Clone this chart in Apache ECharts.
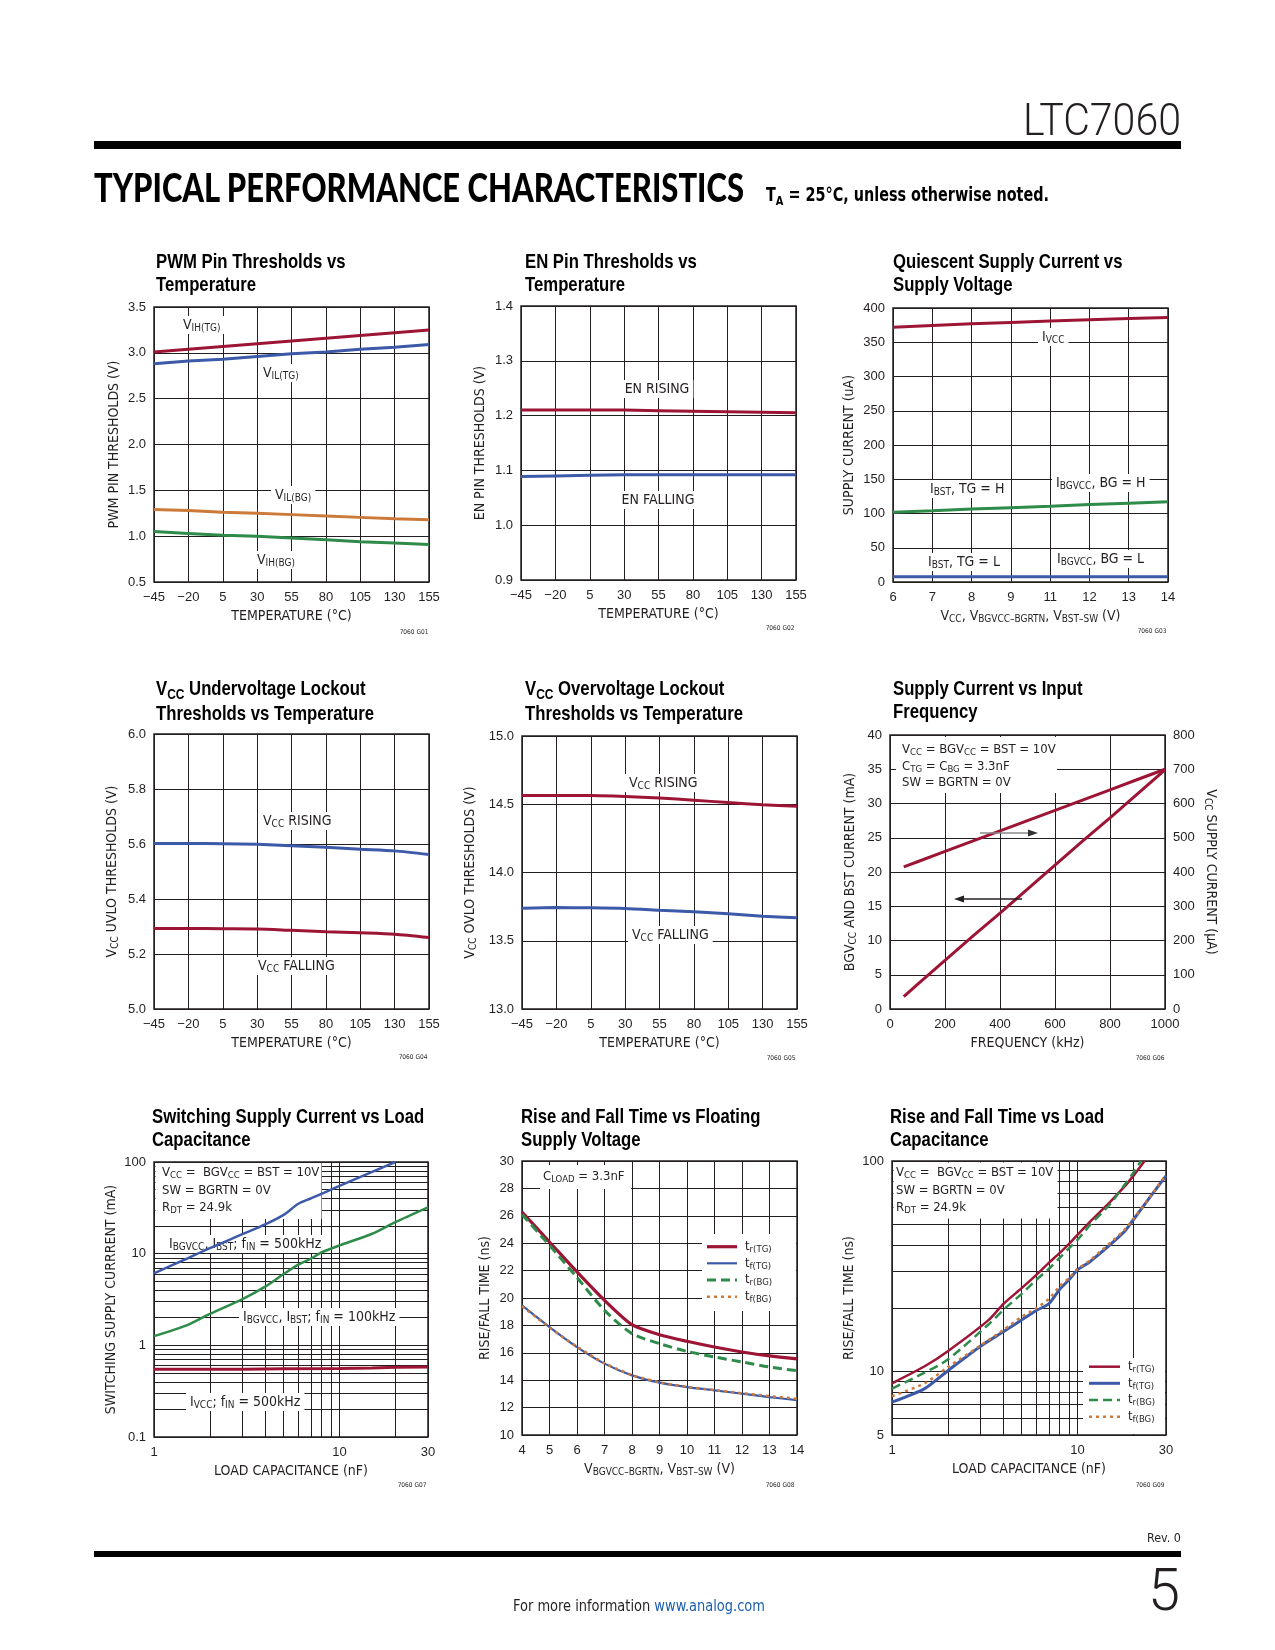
<!DOCTYPE html>
<html><head><meta charset="utf-8">
<script src="https://cdn.jsdelivr.net/npm/echarts@6/dist/echarts.min.js"></script>
<style>
html,body{margin:0;padding:0;background:#fff;}
#page{position:relative;width:1275px;height:1650px;overflow:hidden;background:#fff;}
#chart{position:absolute;left:0;top:0;width:1275px;height:1650px;}
.t{position:absolute;white-space:nowrap;color:#231f20;line-height:1;transform-origin:0 0;}
.n{font-family:"Liberation Sans Narrow","Arial Narrow","DejaVu Sans Condensed",sans-serif;}
.rule{position:absolute;background:#000;}
.code{position:absolute;font-family:"DejaVu Sans Condensed",sans-serif;font-size:6.5px;color:#231f20;width:60px;text-align:center;line-height:1;}
.ttl{position:absolute;white-space:nowrap;color:#000;font-family:"Liberation Sans",Arial,sans-serif;font-weight:bold;font-size:21px;line-height:23px;transform-origin:0 0;}
.ttl sub{font-size:15px;vertical-align:baseline;position:relative;top:4px;}
</style></head>
<body><div id="page">
<div id="chart"></div>
<div class="t" id="hdr" data-w="158" style="left:1023px;top:97.5px;font-family:Roboto,sans-serif;font-weight:300;font-size:44px;">LTC7060</div>
<div class="rule" style="left:94px;top:141px;width:1087px;height:7.5px;"></div>
<div class="t" id="tpc" data-w="650" style="left:94px;top:167px;font-family:Lato,'DejaVu Sans',sans-serif;font-weight:900;font-size:40px;color:#000;">TYPICAL PERFORMANCE CHARACTERISTICS</div>
<div class="t n" id="ta" data-w="283" style="left:766px;top:185px;font-weight:bold;font-size:19px;color:#000;">T<span style="font-size:13px;position:relative;top:4px;">A</span> = 25°C, unless otherwise noted.</div>
<div class="rule" style="left:94px;top:1550.5px;width:1087px;height:6.5px;"></div>
<div class="t n" id="rev" data-w="34" style="left:1147px;top:1532px;font-size:12px;">Rev. 0</div>
<div class="t" id="pg" data-w="32" style="left:1148px;top:1560px;font-family:Roboto,sans-serif;font-weight:300;font-size:60px;">5</div>
<div class="t n" id="ftr" data-w="252" style="left:513px;top:1598px;font-size:16px;">For more information <span style="color:#1b5fae;">www.analog.com</span></div>

<div class="ttl" style="left:156px;top:249px;"><span id="ref1">PWM Pin Thresholds vs</span><br>Temperature</div>
<div class="ttl" style="left:525px;top:249px;">EN Pin Thresholds vs<br>Temperature</div>
<div class="ttl" style="left:893px;top:249px;">Quiescent Supply Current vs<br>Supply Voltage</div>
<div class="ttl" style="left:156px;top:675.5px;">V<sub>CC</sub> Undervoltage Lockout<br>Thresholds vs Temperature</div>
<div class="ttl" style="left:525px;top:675.5px;">V<sub>CC</sub> Overvoltage Lockout<br>Thresholds vs Temperature</div>
<div class="ttl" style="left:893px;top:675.5px;">Supply Current vs Input<br>Frequency</div>
<div class="ttl" style="left:152px;top:1104px;">Switching Supply Current vs Load<br>Capacitance</div>
<div class="ttl" style="left:521px;top:1104px;">Rise and Fall Time vs Floating<br>Supply Voltage</div>
<div class="ttl" style="left:890px;top:1104px;">Rise and Fall Time vs Load<br>Capacitance</div>

<div class="code" style="left:384px;top:629px;">7060 G01</div>
<div class="code" style="left:750px;top:625px;">7060 G02</div>
<div class="code" style="left:1122px;top:628px;">7060 G03</div>
<div class="code" style="left:383px;top:1054px;">7060 G04</div>
<div class="code" style="left:751px;top:1055px;">7060 G05</div>
<div class="code" style="left:1120px;top:1055px;">7060 G06</div>
<div class="code" style="left:382px;top:1482px;">7060 G07</div>
<div class="code" style="left:750px;top:1482px;">7060 G08</div>
<div class="code" style="left:1120px;top:1482px;">7060 G09</div>
</div>
<script>
// ---------------- DATA ----------------
// Chart 1: PWM pin thresholds vs temperature
const tempLabels = ['−45','−20','5','30','55','80','105','130','155'];
const pwmVihTG = [3.01,3.04,3.07,3.10,3.13,3.16,3.19,3.22,3.25];
const pwmVilTG = [2.88,2.91,2.93,2.96,2.99,3.01,3.04,3.06,3.09];
const pwmVilBG = [1.29,1.28,1.26,1.25,1.235,1.22,1.205,1.19,1.18];
const pwmVihBG = [1.05,1.03,1.01,1.00,0.98,0.96,0.94,0.925,0.91];
// Chart 2: EN pin thresholds
const enRising  = [1.210,1.210,1.210,1.210,1.209,1.208,1.207,1.206,1.205];
const enFalling = [1.089,1.090,1.091,1.092,1.092,1.092,1.092,1.092,1.092];
// Chart 3: quiescent current vs supply voltage
const vccTickLabels = ['6','7','8','9','11','12','13','14'];
const iqVcc  = [372,374.5,377,379,381,383,384.5,386];
const iqHigh = [102,104,106.5,108.5,110.5,113,115,117];
const iqLow  = [7.5,7.5,7.5,7.5,7.5,7.5,7.5,7.5];
// Chart 4: UVLO
const uvloRising  = [5.602,5.602,5.601,5.599,5.594,5.588,5.581,5.575,5.562];
const uvloFalling = [5.293,5.293,5.292,5.291,5.286,5.281,5.277,5.272,5.260];
// Chart 5: OVLO
const ovloRising  = [14.564,14.564,14.564,14.557,14.545,14.530,14.512,14.496,14.485];
const ovloFalling = [13.738,13.743,13.741,13.736,13.724,13.712,13.697,13.680,13.668];
// Chart 6: supply current vs input frequency
const freqKHz  = [50,100,200,300,400,500,600,700,800,900,1000];
const freqIbgBst = [1.8,3.6,7.1,10.6,14.0,17.5,21.0,24.5,27.9,31.4,34.9];   // mA, left axis
const freqIvcc   = [415,430,460,490,520,550,580,610,640,670,700];          // uA, right axis
// Chart 7: switching supply current vs load capacitance
const capSw500 = [1,1.5,2,3,4,5,6,7,8,10,15,20];
const sw500    = [6.1,8.8,11.5,16.3,21,26.5,35,40,45,55,78,100];
const capSw100 = [1,1.5,2,3,4,5,6,7,8,10,15,20,30];
const sw100    = [1.26,1.65,2.2,3.2,4.4,6.0,7.6,8.8,10.3,12.3,16.5,22.1,32];
const capSwVcc = [1,2,3,5,10,15,20,30];
const swVcc    = [0.55,0.55,0.55,0.555,0.56,0.565,0.575,0.58];
const c7GridX  = [2,3,4,5,6,7,8,9,20];
const c7GridY  = [0.2,0.3,0.4,0.5,0.6,0.7,0.8,0.9,2,3,4,5,6,7,8,9,20,30,40,50,60,70,80,90];
// Chart 8: rise/fall vs floating supply
const vFloat = [4,5,6,7,8,9,10,11,12,13,14];
const trTG8 = [26.28,24.09,21.9,19.83,18.05,17.32,16.84,16.42,16.06,15.77,15.55];
const tfTG8 = [19.46,17.88,16.42,15.21,14.35,13.82,13.5,13.26,13.02,12.77,12.54];
const trBG8 = [26.1,23.84,21.5,19.1,17.4,16.67,16.1,15.7,15.33,14.96,14.69];
const tfBG8 = [19.4,17.85,16.45,15.25,14.38,13.85,13.52,13.28,13.05,12.84,12.64];
// Chart 9: rise/fall vs load capacitance
const capTrTG9 = [1,1.5,2,3.3,4,5,6,7,8,9,10,11.7,15,17.9,20,23];
const trTG9    = [8.8,10.6,12.5,17.5,21,24.9,28.8,32.8,36.5,40.4,44.6,51.5,64,75.5,85,100];
const capTrBG9 = [1,1.5,2,3.3,4,5,6,7,8,9,10,11.7,15,17.9,20,22];
const trBG9    = [8.3,9.9,11.4,16.7,19.7,23.4,27.3,30.7,34.6,38.5,42.2,49.7,62.5,76.9,88,100];
const capTf9   = [1,1.5,2,3,4,5,6,7,8,9,10,11.7,17.9,20,25,30];
const tfTG9    = [7.16,8.3,10.1,13.2,15.5,17.6,19.5,21,24.5,27.3,30.4,33.3,46.2,52.6,68.6,85];
const tfBG9    = [7.64,8.8,10.5,13.3,15.8,18.2,20,22.1,25.4,27.8,30.7,33.8,47,53,69,86];
const c9GridX  = [2,3,4,5,6,7,8,9,20];
const c9GridY  = [6,7,8,9,20,30,40,50,60,70,80,90];
// legend names (charts 8 and 9)
const legendNames = ['t_{r(TG)}','t_{f(TG)}','t_{r(BG)}','t_{f(BG)}'];

// ---------------- STYLE ----------------
const C = {red:'#9d1535', blue:'#3c5aa8', green:'#2e8b4a', orange:'#cc7a3a', ink:'#231f20'};
const NARROW = '"Liberation Sans Narrow","Arial Narrow","DejaVu Sans Condensed",sans-serif';
const REG = '"Liberation Sans",Arial,Helvetica,sans-serif';
const GL = {color:C.ink, width:1};

function rt(s, m, sb){
  m = m || 'm'; sb = sb || 's';
  return s.split('\n').map(function(line){
    let out='', last=0, mm; const re=/_\{([^}]*)\}/g;
    while((mm=re.exec(line))){
      if(mm.index>last) out+='{'+m+'|'+line.slice(last,mm.index)+'}';
      out+='{'+sb+'|'+mm[1]+'}'; last=re.lastIndex;
    }
    if(last<line.length) out+='{'+m+'|'+line.slice(last)+'}';
    return out;
  }).join('\n');
}
const RICH_LBL = {
  m:{fontSize:14,fontFamily:NARROW,color:C.ink,fill:C.ink,lineHeight:16},
  s:{fontSize:10,fontFamily:NARROW,color:C.ink,fill:C.ink,lineHeight:10,padding:[6,0,0,0]}
};
const RICH_BOX = {
  m:{fontSize:13,fontFamily:NARROW,color:C.ink,fill:C.ink,lineHeight:15},
  s:{fontSize:9.5,fontFamily:NARROW,color:C.ink,fill:C.ink,lineHeight:9,padding:[6,0,0,0]}
};
const RICH_LEG = RICH_BOX;
const NAME_TS = {fontSize:14,fontFamily:NARROW,color:C.ink,rich:RICH_LBL};
const LBL_TS = {fontSize:13,fontFamily:REG,color:C.ink,margin:8};

const GRIDS = [
  {left:154, top:307, width:275, height:275},
  {left:521, top:306, width:275, height:274},
  {left:893, top:308, width:275, height:274},
  {left:154, top:734, width:275, height:275},
  {left:522, top:736, width:275, height:273},
  {left:890, top:735, width:275, height:274},
  {left:154, top:1162, width:274, height:275},
  {left:522, top:1161, width:275, height:274},
  {left:892, top:1161, width:274, height:274}
];

// ---------------- AXES ----------------
function nm(name, gap){
  return {name:rt(name), nameLocation:'middle', nameGap:gap, nameTextStyle:NAME_TS};
}
function catX(gi, cats, name){
  return Object.assign({type:'category', gridIndex:gi, data:cats, boundaryGap:false,
    axisLine:{show:false}, axisTick:{show:false}, axisLabel:Object.assign({interval:0},LBL_TS,{margin:9}),
    splitLine:{show:true, interval:0, lineStyle:GL}}, nm(name,26));
}
function valX(gi, min, max, interval, name){
  return Object.assign({type:'value', gridIndex:gi, min:min, max:max, interval:interval,
    axisLine:{show:false}, axisTick:{show:false},
    axisLabel:Object.assign({formatter:function(v){return String(v);}},LBL_TS,{margin:9}),
    splitLine:{show:true, lineStyle:GL}}, nm(name,26));
}
function valY(gi, min, max, interval, dec, name, gap, extra){
  return Object.assign({type:'value', gridIndex:gi, min:min, max:max, interval:interval, nameRotate:90,
    axisLine:{show:false}, axisTick:{show:false},
    axisLabel:Object.assign({formatter:function(v){return v.toFixed(dec);}},LBL_TS),
    splitLine:{show:true, lineStyle:GL}}, nm(name,gap), extra||{});
}
function logFmt(v){ return String(+(+v).toPrecision(3)); }
function logAxis(gi, min, max, name, gap, isY){
  return Object.assign({type:'log', logBase:10, gridIndex:gi, min:min, max:max,
    axisLine:{show:false}, axisTick:{show:false}, minorTick:{show:false},
    axisLabel:Object.assign({formatter:logFmt},LBL_TS,{margin:isY?8:9}),
    splitLine:{show:true, lineStyle:GL}}, nm(name,gap), isY?{nameRotate:90}:{});
}
const TEMP = 'TEMPERATURE (°C)';
const xAxes = [
  catX(0,tempLabels,TEMP), catX(1,tempLabels,TEMP),
  catX(2,vccTickLabels,'V_{CC}, V_{BGVCC–BGRTN}, V_{BST–SW} (V)'),
  catX(3,tempLabels,TEMP), catX(4,tempLabels,TEMP),
  valX(5,0,1000,200,'FREQUENCY (kHz)'),
  logAxis(6,1,30,'LOAD CAPACITANCE (nF)',26,false),
  valX(7,4,14,1,'V_{BGVCC–BGRTN}, V_{BST–SW} (V)'),
  logAxis(8,1,30,'LOAD CAPACITANCE (nF)',26,false)
];
const yAxes = [
  valY(0,0.5,3.5,0.5,1,'PWM PIN THRESHOLDS (V)',32),
  valY(1,0.9,1.4,0.1,1,'EN PIN THRESHOLDS (V)',33),
  valY(2,0,400,50,0,'SUPPLY CURRENT (uA)',36),
  valY(3,5.0,6.0,0.2,1,'V_{CC} UVLO THRESHOLDS (V)',34),
  valY(4,13,15,0.5,1,'V_{CC} OVLO THRESHOLDS (V)',44),
  valY(5,0,40,5,0,'BGV_{CC} AND BST CURRENT (mA)',32),
  valY(5,0,800,100,0,'V_{CC} SUPPLY CURRENT (µA)',38,{position:'right', nameRotate:-90, splitLine:{show:false}}),
  logAxis(6,0.1,100,'SWITCHING SUPPLY CURRRENT (mA)',35,true),
  valY(7,10,30,2,0,'RISE/FALL TIME (ns)',29),
  logAxis(8,5,100,'RISE/FALL TIME (ns)',35,true)
];

// ---------------- SERIES ----------------
function zip(xs, ys){ return xs.map(function(x,i){ return [x, ys[i]]; }); }
const Z_SERIES = 8;
function ln(name, xi, yi, data, color, width, type, smooth){
  return {type:'line', name:name, xAxisIndex:xi, yAxisIndex:yi, data:data, symbol:'none', showSymbol:false,
    smooth: smooth===undefined?0.25:smooth, z:Z_SERIES, silent:true, animation:false, clip:true,
    lineStyle:{color:color, width:width, type:type||'solid', cap:'butt'}, itemStyle:{color:color}};
}
function gridSeries(xi, yi, gx, gy, anchor){
  return {type:'line', xAxisIndex:xi, yAxisIndex:yi, data:[anchor], symbol:'none', z:1, silent:true,
    animation:false, lineStyle:{opacity:0},
    markLine:{z:1, silent:true, animation:false, symbol:['none','none'], label:{show:false}, emphasis:{disabled:true},
      lineStyle:{color:C.ink, width:1, type:'solid'},
      data: gx.map(function(v){return {xAxis:v};}).concat(gy.map(function(v){return {yAxis:v};}))}};
}
const DASH = [9,5], DOT = [3,4];
const S8 = [[C.red,3.2,'solid'],[C.blue,2.2,'solid'],[C.green,3,DASH],[C.orange,2.5,DOT]];
const S9 = [[C.red,2.5,'solid'],[C.blue,3,'solid'],[C.green,2.5,DASH],[C.orange,2.5,DOT]];
const series = [
  ln('a1',0,0,pwmVihTG,C.red,3,'solid',false),
  ln('a2',0,0,pwmVilTG,C.blue,3,'solid',false),
  ln('a3',0,0,pwmVilBG,C.orange,3,'solid',false),
  ln('a4',0,0,pwmVihBG,C.green,3,'solid',false),
  ln('b1',1,1,enRising,C.red,3,'solid',false),
  ln('b2',1,1,enFalling,C.blue,3,'solid',false),
  ln('c1',2,2,iqVcc,C.red,3,'solid',false),
  ln('c2',2,2,iqHigh,C.green,3,'solid',false),
  ln('c3',2,2,iqLow,C.blue,3,'solid',false),
  ln('d1',3,3,uvloRising,C.blue,3),
  ln('d2',3,3,uvloFalling,C.red,3),
  ln('e1',4,4,ovloRising,C.red,3),
  ln('e2',4,4,ovloFalling,C.blue,3),
  ln('f1',5,5,zip(freqKHz,freqIbgBst),C.red,3,'solid',false),
  ln('f2',5,6,zip(freqKHz,freqIvcc),C.red,3,'solid',false),
  gridSeries(6,7,c7GridX,c7GridY,[1,1]),
  ln('g1',6,7,zip(capSw500,sw500),C.blue,2.5),
  ln('g2',6,7,zip(capSw100,sw100),C.green,2.5),
  ln('g3',6,7,zip(capSwVcc,swVcc),C.red,3,'solid',false),
  ln(legendNames[0],7,8,zip(vFloat,trTG8),S8[0][0],S8[0][1],S8[0][2]),
  ln(legendNames[1],7,8,zip(vFloat,tfTG8),S8[1][0],S8[1][1],S8[1][2]),
  ln(legendNames[2],7,8,zip(vFloat,trBG8),S8[2][0],S8[2][1],S8[2][2]),
  ln(legendNames[3],7,8,zip(vFloat,tfBG8),S8[3][0],S8[3][1],S8[3][2]),
  gridSeries(8,9,c9GridX,c9GridY,[1,10]),
  ln(legendNames[0],8,9,zip(capTrTG9,trTG9),S9[0][0],S9[0][1],S9[0][2]),
  ln(legendNames[1],8,9,zip(capTf9,tfTG9),S9[1][0],S9[1][1],S9[1][2]),
  ln(legendNames[2],8,9,zip(capTrBG9,trBG9),S9[2][0],S9[2][1],S9[2][2]),
  ln(legendNames[3],8,9,zip(capTf9,tfBG9),S9[3][0],S9[3][1],S9[3][2])
];

// ---------------- ANNOTATIONS ----------------
function lbl(x, y, s, align){
  return {type:'text', z:7, silent:true, x: align==='center'?x:x-4, y:y,
    style:{text:rt(s), align:align||'left', verticalAlign:'middle', rich:RICH_LBL, fontSize:14, fontFamily:NARROW,
      fill:C.ink, backgroundColor:'#fff', padding:[1,4,1,4]}};
}
function txt(x, y, s, rich){
  return {type:'text', z:7, silent:true, x:x, y:y,
    style:{text:rt(s), align:'left', verticalAlign:'middle', rich:rich||RICH_BOX, fontSize:13, fontFamily:NARROW, fill:C.ink}};
}
function box(x, y, w, h){
  return {type:'rect', z:6, silent:true, shape:{x:x,y:y,width:w,height:h}, style:{fill:'#fff'}};
}
function arrow(x1, x2, y, lineColor, headColor){
  const d = x2 > x1 ? -1 : 1;
  return [
    {type:'line', z:9, silent:true, shape:{x1:x1,y1:y,x2:x2+d*6,y2:y}, style:{stroke:lineColor,lineWidth:1.6}},
    {type:'polygon', z:9, silent:true, shape:{points:[[x2,y],[x2+d*10,y-3.5],[x2+d*10,y+3.5]]}, style:{fill:headColor}}
  ];
}
function legendBlock(x1, x2, tx, ys, styles){
  const out = [];
  legendNames.forEach(function(n, i){
    const st = styles[i];
    out.push({type:'line', z:9, silent:true, shape:{x1:x1,y1:ys[i],x2:x2,y2:ys[i]},
      style:{stroke:st[0], lineWidth:st[1], lineDash: st[2]==='solid'?null:st[2]}});
    out.push(txt(tx, ys[i], n, RICH_LEG));
  });
  return out;
}
const graphics = [
  lbl(183,325,'V_{IH(TG)}'), lbl(263,373,'V_{IL(TG)}'), lbl(275,495,'V_{IL(BG)}'), lbl(257,560,'V_{IH(BG)}'),
  lbl(657,389,'EN RISING','center'), lbl(658,500,'EN FALLING','center'),
  lbl(1042,337,'I_{VCC}'), lbl(930,489,'I_{BST}, TG = H'), lbl(1056,483,'I_{BGVCC}, BG = H'),
  lbl(928,562,'I_{BST}, TG = L'), lbl(1057,559,'I_{BGVCC}, BG = L'),
  lbl(263,821,'V_{CC} RISING'), lbl(258,966,'V_{CC} FALLING'),
  lbl(629,783,'V_{CC} RISING'), lbl(632,935,'V_{CC} FALLING'),
  box(896,737,161,56),
  txt(902,750,'V_{CC} = BGV_{CC} = BST = 10V'), txt(902,767,'C_{TG} = C_{BG} = 3.3nF'), txt(902,783,'SW = BGRTN = 0V'),
  box(155.5,1163,166,56),
  txt(162,1173,'V_{CC} =  BGV_{CC} = BST = 10V'), txt(162,1191,'SW = BGRTN = 0V'), txt(162,1208,'R_{DT} = 24.9k'),
  lbl(169,1244,'I_{BGVCC}, I_{BST}; f_{IN} = 500kHz'), lbl(243,1317,'I_{BGVCC}, I_{BST}; f_{IN} = 100kHz'),
  lbl(190,1402,'I_{VCC}; f_{IN} = 500kHz'),
  box(540,1165,91,24), txt(543,1177,'C_{LOAD} = 3.3nF'),
  box(702,1234,94,77),
  box(893.5,1162.5,164,56),
  txt(896,1173,'V_{CC} =  BGV_{CC} = BST = 10V'), txt(896,1191,'SW = BGRTN = 0V'), txt(896,1208,'R_{DT} = 24.9k'),
  box(1083,1358,82,76)
].concat(
  arrow(980,1038,833,'#8a8a8a','#333'), arrow(1022,954,899,'#231f20','#231f20'),
  legendBlock(707,737,745,[1246.7,1263.3,1280,1296.7],S8),
  legendBlock(1089,1120,1128,[1366.7,1383.3,1400,1416.7],S9)
);

const option = {
  animation:false,
  backgroundColor:'transparent',
  grid: GRIDS.map(function(g){ return Object.assign({show:true, borderColor:C.ink, borderWidth:1.5, backgroundColor:'transparent'}, g); }),
  xAxis: xAxes,
  yAxis: yAxes,
  graphic: {elements: graphics},
  series: series
};
const chart = echarts.init(document.getElementById('chart'), null, {renderer:'canvas'});
chart.setOption(option);

// fit header/footer texts to measured widths
['hdr','tpc','ta','rev','pg','ftr'].forEach(function(id){
  const el = document.getElementById(id);
  const w = parseFloat(el.getAttribute('data-w'));
  const r = el.getBoundingClientRect().width;
  if (r > 0) el.style.transform = 'scaleX(' + (w / r) + ')';
});
// condense chart titles with one common factor (first title line measured against reference width)
(function(){
  const r = document.getElementById('ref1').getBoundingClientRect().width;
  const k = r > 0 ? 189.5 / r : 0.84;
  document.querySelectorAll('.ttl').forEach(function(el){ el.style.transform = 'scaleX(' + k + ')'; });
})();
</script>
</body></html>
